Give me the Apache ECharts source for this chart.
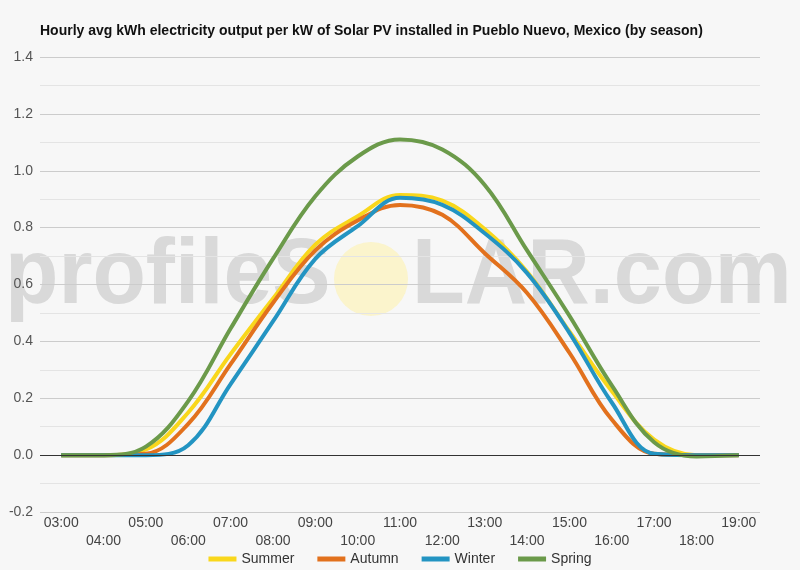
<!DOCTYPE html>
<html>
<head>
    <meta charset="utf-8">
    <title>Pueblo Nuevo solar PV output</title>
    <script src="https://cdn.jsdelivr.net/npm/echarts@6/dist/echarts.min.js"></script>
    <style>
        body { margin: 0; background: #f7f7f7; }
    </style>
</head>
<body>
    <div id="main" style="width: 800px;height:570px;"></div>
    <script type="text/javascript">
    var hours = ['03:00', '04:00', '05:00', '06:00', '07:00', '08:00', '09:00', '10:00', '11:00',
        '12:00', '13:00', '14:00', '15:00', '16:00', '17:00', '18:00', '19:00'];
    var summer = [0, 0, 0.02, 0.15, 0.355, 0.55, 0.74, 0.84, 0.915, 0.895, 0.795, 0.645, 0.435, 0.225, 0.055, 0.0, 0];
    var autumn = [0, 0, 0.005, 0.11, 0.32, 0.535, 0.72, 0.825, 0.88, 0.845, 0.71, 0.57, 0.36, 0.125, 0.005, 0, 0];
    var winter = [0, 0, 0.0, 0.035, 0.25, 0.47, 0.69, 0.805, 0.905, 0.88, 0.78, 0.64, 0.43, 0.185, 0.005, 0, 0];
    var spring = [0, 0, 0.03, 0.19, 0.445, 0.69, 0.91, 1.05, 1.11, 1.075, 0.95, 0.72, 0.49, 0.245, 0.045, -0.005, 0];
    var colors = ['#f9d71c', '#e2711d', '#2394c2', '#6b9a4a'];

    var myChart = echarts.init(document.getElementById('main'));

    function line(name, data, color) {
        return {
            name: name,
            type: 'line',
            data: data,
            smooth: 0.38,
            symbol: 'none',
            lineStyle: { width: 4, color: color },
            itemStyle: { color: color }
        };
    }

    var series = [
        line('Summer', summer, colors[0]),
        line('Autumn', autumn, colors[1]),
        line('Winter', winter, colors[2]),
        line('Spring', spring, colors[3])
    ];
    // black zero line
    series[0].markLine = {
        silent: true,
        symbol: 'none',
        label: { show: false },
        lineStyle: { color: '#333', width: 1, type: 'solid' },
        data: [{ yAxis: 0 }]
    };

    var wmFont = 'bold 93px "Liberation Sans", Arial, sans-serif';
    var wmFill = 'rgba(160,160,160,0.35)';

    var option = {
        backgroundColor: '#f7f7f7',
        textStyle: { fontFamily: 'Liberation Sans, Arial, sans-serif' },
        title: {
            text: 'Hourly avg kWh electricity output per kW of Solar PV installed in Pueblo Nuevo, Mexico (by season)',
            left: 35,
            top: 19,
            textStyle: { fontSize: 14, fontWeight: 'bold', color: '#111' }
        },
        graphic: [{
            type: 'text',
            silent: true,
            z: 0,
            x: 5,
            y: 277,
            scaleX: 0.94,
            style: {
                x: 0, y: 0, text: 'profileS',
                font: wmFont,
                fill: wmFill,
                textVerticalAlign: 'middle'
            }
        }, {
            type: 'circle',
            silent: true,
            z: 0,
            shape: { cx: 371, cy: 279, r: 37 },
            style: { fill: 'rgba(255,240,150,0.45)' }
        }, {
            type: 'text',
            silent: true,
            z: 0,
            x: 412,
            y: 277,
            scaleX: 0.93,
            style: {
                x: 0, y: 0, text: 'LAR.com',
                font: wmFont,
                fill: wmFill,
                textVerticalAlign: 'middle'
            }
        }],
        legend: {
            top: 547,
            left: 'center',
            itemWidth: 28,
            itemHeight: 5,
            itemGap: 23,
            icon: 'rect',
            textStyle: { fontSize: 14, color: '#333' },
            data: ['Summer', 'Autumn', 'Winter', 'Spring']
        },
        grid: { left: 40, right: 40, top: 57, bottom: 58 },
        xAxis: {
            type: 'category',
            data: hours,
            boundaryGap: true,
            axisLine: { show: false },
            axisTick: { show: false },
            axisLabel: {
                interval: 0,
                margin: 2,
                fontSize: 14,
                lineHeight: 18,
                color: '#444',
                formatter: function (value, index) {
                    return index % 2 ? '\n' + value : value;
                }
            }
        },
        yAxis: {
            type: 'value',
            min: -0.2,
            max: 1.4,
            interval: 0.2,
            axisLine: { show: false },
            axisTick: { show: false },
            axisLabel: {
                fontSize: 14,
                color: '#555',
                margin: 7,
                formatter: function (v) { return v.toFixed(1); }
            },
            splitLine: { lineStyle: { color: '#cccccc' } },
            minorTick: { show: false, splitNumber: 2 },
            minorSplitLine: { show: true, lineStyle: { color: '#e4e4e4' } }
        },
        series: series
    };
    myChart.setOption(option);
    </script>
</body>
</html>
